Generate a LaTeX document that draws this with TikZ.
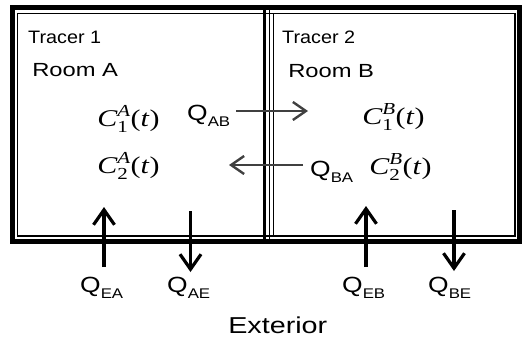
\documentclass[tikz,border=0pt]{standalone}
\usepackage{fontspec}
\usepackage{amsmath}
\setmainfont{Liberation Sans}
\newfontfamily\tms{Liberation Serif}
\usetikzlibrary{arrows.meta}
\newcommand{\qsub}[1]{{\fontsize{22}{22}\selectfont Q}\raisebox{-6pt}{\fontsize{14}{14}\selectfont #1}}
\newcommand{\conc}[2]{\fontsize{24}{24}\selectfont$\text{\tms\itshape C}_{\text{\tms #1}}^{\text{\tms\itshape #2}}\text{\tms (\itshape t\/\upshape)}$}
\begin{document}
\begin{tikzpicture}[x=1pt,y=-1pt,
  lab/.style={inner sep=0pt, anchor=base west},
  tracer/.style={lab, font=\fontsize{18}{18}\selectfont, xscale=1.1},
  roomlab/.style={lab, font=\fontsize{19}{19}\selectfont, xscale=1.25},
  conclab/.style={lab, xscale=1.25},
  flowlab/.style={lab, xscale=1.2},
  extlab/.style={lab, font=\fontsize{23}{23}\selectfont, xscale=1.25},
  vflow/.style={line width=3.2pt, -{Straight Barb[length=15pt,width=21pt,line width=3.2pt]}},
  hflow/.style={line width=2.4pt, black!75, -{Straight Barb[length=13pt,width=18pt,line width=2.4pt]}},
  thickwall/.style={line width=5pt},
  thinwall/.style={line width=1.3pt}]
\useasboundingbox (0,0) rectangle (525,341);
% walls
\draw[thickwall] (12.5,7.5) rectangle (519.5,241.5);
\draw[thinwall] (17.5,13.5) rectangle (515,236);
\draw[line width=3.5pt] (264.5,7.5) -- (264.5,241.5);
\draw[thinwall] (269.5,7.5) -- (269.5,241.5);
\draw[thinwall] (273.5,13.5) -- (273.5,236);
% texts
\node[tracer] (t1) at (28,43) {Tracer 1};
\node[tracer] (t2) at (282,43) {Tracer 2};
\node[roomlab] (ra) at (32,76) {Room A};
\node[roomlab] (rb) at (288,77) {Room B};
\node[conclab] (c1a) at (97,126) {\conc{1}{A}};
\node[conclab] (c2a) at (97,173) {\conc{2}{A}};
\node[conclab] (c1b) at (362,124) {\conc{1}{B}};
\node[conclab] (c2b) at (369,174) {\conc{2}{B}};
\node[flowlab] (qab) at (187,120) {\qsub{AB}};
\node[flowlab] (qba) at (310,176) {\qsub{BA}};
\node[flowlab] (qea) at (80,292) {\qsub{EA}};
\node[flowlab] (qae) at (167,292) {\qsub{AE}};
\node[flowlab] (qeb) at (342,292) {\qsub{EB}};
\node[flowlab] (qbe) at (428,292) {\qsub{BE}};
\node[extlab] (ext) at (228,333) {Exterior};
% arrows
\coordinate (abs) at (236,111); \coordinate (abe) at (308,111);
\coordinate (bas) at (303,165); \coordinate (bae) at (229,165);
\coordinate (eas) at (104,267); \coordinate (eae) at (104,207);
\coordinate (aes) at (190.5,211); \coordinate (aee) at (190.5,272);
\coordinate (ebs) at (366,267); \coordinate (ebe) at (366,206);
\coordinate (bes) at (454,210); \coordinate (bee) at (454,271);
\draw[hflow] (abs) -- (abe);
\draw[hflow] (bas) -- (bae);
\draw[vflow] (eas) -- (eae);
\draw[vflow] (aes) -- (aee);
\draw[vflow] (ebs) -- (ebe);
\draw[vflow] (bes) -- (bee);
\end{tikzpicture}
\end{document}
